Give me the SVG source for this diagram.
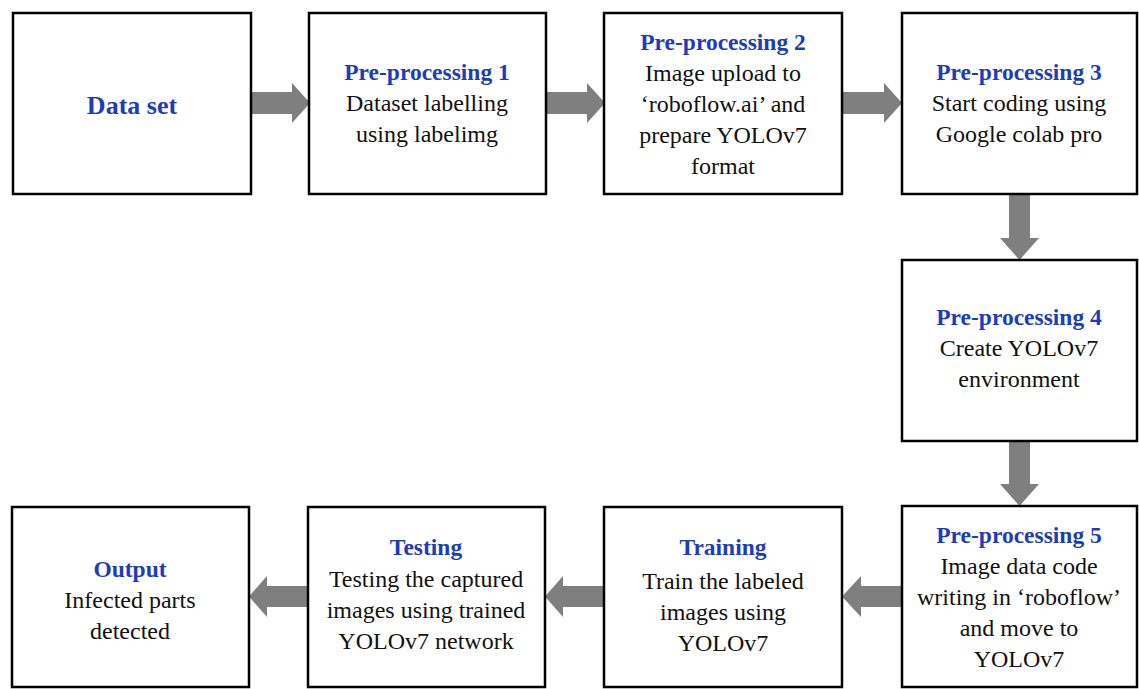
<svg xmlns="http://www.w3.org/2000/svg" width="1139" height="689" viewBox="0 0 1139 689">
<style>
.box{fill:#fff;stroke:#000;stroke-width:2.5}
.t{font-family:"Liberation Serif","Times New Roman",serif;font-size:24px;text-anchor:middle;fill:#111}
.h{font-weight:bold;fill:#1f3cb8;font-size:23.5px}
.arr{fill:#7f7f7f}
</style>
<rect width="1139" height="689" fill="#fff"/>
<g id="connectors">
<path class="arr" d="M251,92 H292 V83 L310,103 L292,123 V114 H251 Z"/>
<path class="arr" d="M546,92 H587 V83 L605,103 L587,123 V114 H546 Z"/>
<path class="arr" d="M842,92 H884 V83 L902,103 L884,123 V114 H842 Z"/>
<path class="arr" d="M1009,194 V238 H1000 L1019.5,260 L1039,238 H1030 V194 Z"/>
<path class="arr" d="M1009,441 V484 H1000 L1019.5,506 L1039,484 H1030 V441 Z"/>
<path class="arr" d="M902,586 H861 V576 L842,596.5 L861,617 V607 H902 Z"/>
<path class="arr" d="M604,586 H563 V576 L545,596.5 L563,617 V607 H604 Z"/>
<path class="arr" d="M308,586 H267 V576 L249,596.5 L267,617 V607 H308 Z"/>
</g>
<g id="dataset">
<rect class="box" x="13" y="13" width="238" height="181"/>
<text class="t h" x="132" y="114" style="font-size:26px">Data set</text>
</g>
<g id="pre1">
<rect class="box" x="309" y="13" width="237" height="181"/>
<text class="t h" x="427" y="80">Pre-processing 1</text>
<text class="t" x="427" y="111">Dataset labelling</text>
<text class="t" x="427" y="142">using labelimg</text>
</g>
<g id="pre2">
<rect class="box" x="604" y="13" width="238" height="181"/>
<text class="t h" x="723" y="50">Pre-processing 2</text>
<text class="t" x="723" y="81">Image upload to</text>
<text class="t" x="723" y="112">‘roboflow.ai’ and</text>
<text class="t" x="723" y="143">prepare YOLOv7</text>
<text class="t" x="723" y="174">format</text>
</g>
<g id="pre3">
<rect class="box" x="902" y="13" width="235" height="181"/>
<text class="t h" x="1019" y="80">Pre-processing 3</text>
<text class="t" x="1019" y="111">Start coding using</text>
<text class="t" x="1019" y="142">Google colab pro</text>
</g>
<g id="pre4">
<rect class="box" x="902" y="260" width="235" height="181"/>
<text class="t h" x="1019" y="325">Pre-processing 4</text>
<text class="t" x="1019" y="356">Create YOLOv7</text>
<text class="t" x="1019" y="387">environment</text>
</g>
<g id="pre5">
<rect class="box" x="902" y="506" width="235" height="181"/>
<text class="t h" x="1019" y="543">Pre-processing 5</text>
<text class="t" x="1019" y="574">Image data code</text>
<text class="t" x="1019" y="605">writing in ‘roboflow’</text>
<text class="t" x="1019" y="636">and move to</text>
<text class="t" x="1019" y="667">YOLOv7</text>
</g>
<g id="training">
<rect class="box" x="604" y="507" width="238" height="180"/>
<text class="t h" x="723" y="555">Training</text>
<text class="t" x="723" y="589">Train the labeled</text>
<text class="t" x="723" y="620">images using</text>
<text class="t" x="723" y="651">YOLOv7</text>
</g>
<g id="testing">
<rect class="box" x="308" y="507" width="237" height="180"/>
<text class="t h" x="426" y="555">Testing</text>
<text class="t" x="426" y="587">Testing the captured</text>
<text class="t" x="426" y="618">images using trained</text>
<text class="t" x="426" y="649">YOLOv7 network</text>
</g>
<g id="output">
<rect class="box" x="12" y="507" width="237" height="180"/>
<text class="t h" x="130" y="577">Output</text>
<text class="t" x="130" y="608">Infected parts</text>
<text class="t" x="130" y="639">detected</text>
</g>
</svg>
